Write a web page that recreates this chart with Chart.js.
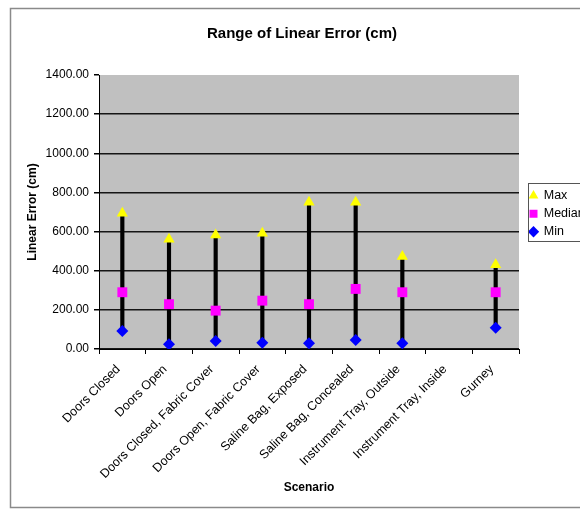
<!DOCTYPE html>
<html>
<head>
<meta charset="utf-8">
<script src="https://cdn.jsdelivr.net/npm/chart.js@4/dist/chart.umd.min.js"></script>
<style>
  html, body { margin: 0; padding: 0; background: #fff; overflow: hidden; }
  #wrap { width: 580px; height: 512px; position: relative; }
</style>
</head>
<body>
<div id="wrap"><canvas id="c" width="580" height="512"></canvas></div>
<script>
// ---- data ----
const categories = [
  'Doors Closed', 'Doors Open', 'Doors Closed, Fabric Cover', 'Doors Open, Fabric Cover',
  'Saline Bag, Exposed', 'Saline Bag, Concealed', 'Instrument Tray, Outside',
  'Instrument Tray, Inside', 'Gurney'
];
const maxValues    = [694, 561, 583, 592, 750, 750, 472, null, 430];
const medianValues = [290, 229, 196, 247, 229, 307, 290, null, 290];
const minValues    = [ 92,  24,  41,  32,  29,  46,  29, null, 109];
const yTicks = [0, 200, 400, 600, 800, 1000, 1200, 1400];

const FONT = "'Liberation Sans', Arial, sans-serif";
const rangeBars = categories.map((c, i) =>
  (minValues[i] == null || maxValues[i] == null) ? null : [minValues[i], maxValues[i]]);

const decorPlugin = {
  id: 'decor',
  beforeDraw(chart) {
    const ctx = chart.ctx, a = chart.chartArea;
    ctx.save();
    ctx.fillStyle = '#ffffff';
    ctx.fillRect(0, 0, chart.width, chart.height);
    ctx.strokeStyle = '#8a8a8a';
    ctx.lineWidth = 1.5;
    ctx.strokeRect(10.5, 8.5, chart.width + 20, 499);
    ctx.fillStyle = '#c0c0c0';
    ctx.fillRect(a.left, a.top, a.right - a.left, a.bottom - a.top);
    ctx.restore();
  },
  afterLayout(chart) {
    const t = chart.titleBlock;
    if (t) {
      t.left = 85; t.right = chart.chartArea.right; t.width = t.right - t.left;
    }
    const lg = chart.legend;
    if (!lg) return;
    lg.left = 524; lg.top = 184;
    lg.width = 90; lg.height = 150;
    lg.right = lg.left + lg.width; lg.bottom = lg.top + lg.height;
  },
  afterDraw(chart) {
    const lg = chart.legend;
    if (!lg) return;
    const ctx = chart.ctx;
    ctx.save();
    ctx.strokeStyle = '#555555';
    ctx.lineWidth = 1;
    ctx.strokeRect(Math.round(lg.left + 4) + 0.5, Math.round(lg.top) - 0.5, 100, 58);
    ctx.restore();
  }
};

new Chart(document.getElementById('c'), {
  type: 'bar',
  data: {
    labels: categories,
    datasets: [
      {
        type: 'line', label: 'Max', data: maxValues, showLine: false,
        pointStyle: 'triangle', pointRadius: 6.5, pointHoverRadius: 6.5,
        backgroundColor: '#ffff00', borderColor: '#ffff00', pointBorderWidth: 0, order: 1
      },
      {
        type: 'line', label: 'Median', data: medianValues, showLine: false,
        pointStyle: 'rect', pointRadius: 7, pointHoverRadius: 7,
        backgroundColor: '#ff00ff', borderColor: '#ff00ff', pointBorderWidth: 0, order: 2
      },
      {
        type: 'line', label: 'Min', data: minValues, showLine: false,
        pointStyle: 'rectRot', pointRadius: 6, pointHoverRadius: 6,
        backgroundColor: '#0000ff', borderColor: '#0000ff', pointBorderWidth: 0, order: 3
      },
      {
        type: 'bar', label: 'Range', data: rangeBars,
        backgroundColor: '#000000', borderWidth: 0, barThickness: 3.5,
        grouped: false, order: 10
      }
    ]
  },
  options: {
    responsive: false,
    animation: false,
    events: [],
    layout: { padding: { top: 8, left: 12, right: 61, bottom: 4 } },
    plugins: {
      tooltip: { enabled: false },
      title: {
        display: true, text: 'Range of Linear Error (cm)', color: '#000',
        font: { family: FONT, size: 15, weight: 'bold' },
        padding: { top: 17, bottom: 32 }
      },
      legend: {
        display: true, position: 'chartArea', align: 'start',
        labels: {
          usePointStyle: true, boxWidth: 8, boxHeight: 8, padding: 5.5,
          color: '#000', font: { family: FONT, size: 12.5 },
          filter: (item) => item.text !== 'Range'
        }
      }
    },
    scales: {
      x: {
        offset: true,
        grid: { offset: true, drawOnChartArea: false, drawTicks: true, tickLength: 5, tickColor: '#000' },
        border: { display: true, color: '#000', width: 1 },
        ticks: {
          autoSkip: false, minRotation: 45, maxRotation: 45, padding: 8, labelOffset: -4,
          color: '#000', font: { family: FONT, size: 12.5 }
        },
        title: {
          display: true, text: 'Scenario', color: '#000',
          font: { family: FONT, size: 12, weight: 'bold' },
          padding: { top: 0, bottom: 12.8 }
        },
        afterFit(scale) { scale.height = 159; }
      },
      y: {
        min: 0, max: 1400,
        afterBuildTicks(scale) { scale.ticks = yTicks.map(v => ({ value: v })); },
        grid: {
          color: (ctx) => (ctx.tick && ctx.tick.value === 1400) ? 'rgba(0,0,0,0)' : '#151515',
          tickColor: '#000', tickLength: 5, lineWidth: 1.5
        },
        border: { display: true, color: '#000', width: 1 },
        ticks: {
          padding: 5, color: '#000', font: { family: FONT, size: 12 },
          callback: (v) => Number(v).toFixed(2)
        },
        title: {
          display: true, text: 'Linear Error (cm)', color: '#000',
          font: { family: FONT, size: 12, weight: 'bold' },
          padding: { top: 13.8, bottom: 0 }
        },
        afterFit(scale) { scale.width = 87; }
      }
    }
  },
  plugins: [decorPlugin]
});
</script>
</body>
</html>
